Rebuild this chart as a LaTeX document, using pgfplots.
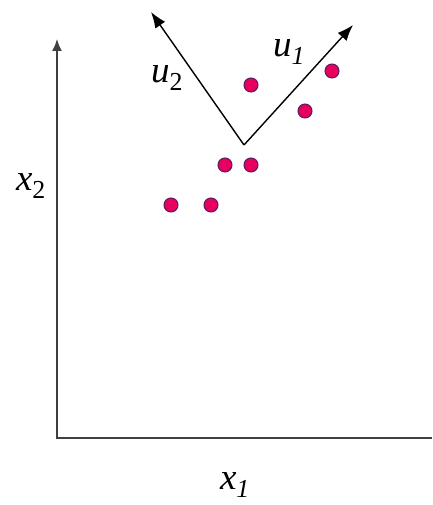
\documentclass[border=0pt]{standalone}
\usepackage{fontspec}
\setmainfont{Liberation Serif}
\usepackage{pgfplots}
\usetikzlibrary{arrows.meta}
\pgfplotsset{compat=1.18}
\definecolor{ptfill}{HTML}{E8005F}
\definecolor{ptedge}{HTML}{5A1A5E}
\definecolor{axgray}{HTML}{404040}
\begin{document}
\begin{tikzpicture}
\begin{axis}[
  hide axis, scale only axis, width=432pt, height=505pt,
  xmin=0, xmax=432, ymin=0, ymax=505, clip=false]
\path[draw=none] (axis cs:0,0) rectangle (axis cs:432,505);
% axes (pixel coordinates, y flipped)
\addplot[axgray, line width=1.6pt, -{Latex[length=12pt,width=10pt]}] coordinates {(57,67) (57,466)};
\addplot[axgray, line width=1.6pt] coordinates {(56.2,67) (432,67)};
% principal directions
\addplot[black, line width=1.4pt, -{Latex[length=16pt,width=12pt]}] coordinates {(244,360) (353,480)};
\addplot[black, line width=1.4pt, -{Latex[length=16pt,width=12pt]}] coordinates {(244,360) (151,493)};
% data points
\addplot[only marks, mark=*, mark size=7pt, mark options={fill=ptfill, draw=ptedge, line width=1pt}] coordinates {
(171,300) (211,300) (225,340) (251,340) (251,420) (305,394) (332,434)};
\node[font=\fontsize{37}{37}\selectfont\itshape] at (axis cs:289,453) {u\textsubscript{1}};
\node[font=\fontsize{37}{37}\selectfont\itshape] at (axis cs:167,427) {u\textsubscript{\upshape 2}};
\node[font=\fontsize{37}{37}\selectfont\itshape] at (axis cs:31,319) {x\textsubscript{\upshape 2}};
\node[font=\fontsize{37}{37}\selectfont\itshape] at (axis cs:235,20) {x\textsubscript{1}};
\end{axis}
\end{tikzpicture}
\end{document}
